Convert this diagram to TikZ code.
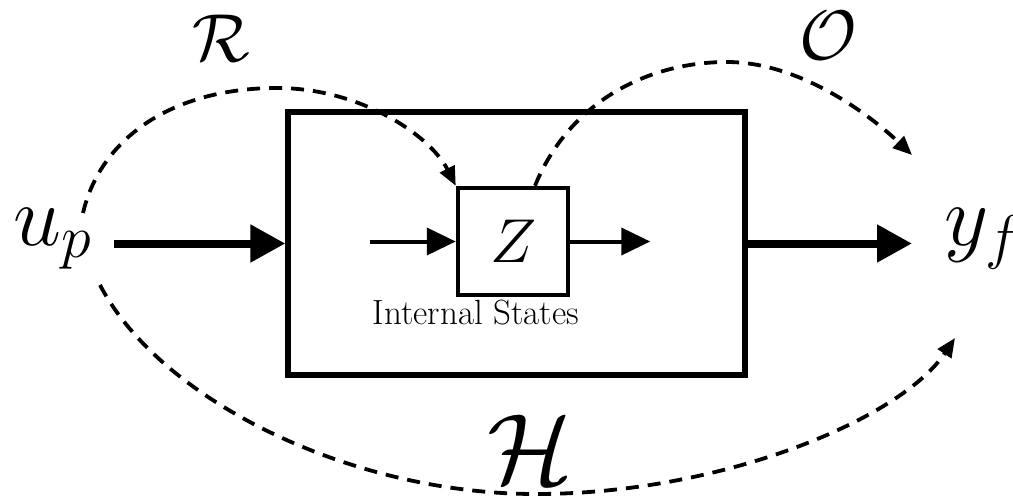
\documentclass[tikz,border=0pt]{standalone}
\usepackage{fix-cm}
\usepackage{amsmath,amssymb}
\usetikzlibrary{arrows.meta,positioning,calc}
\tikzset{
  blk/.style={draw, line width=2.6pt, minimum width=228.5pt, minimum height=131.5pt, inner sep=0pt},
  st/.style={draw, line width=2.25pt, minimum width=55pt, minimum height=53.5pt, inner sep=0pt,
    font=\fontsize{31}{36}\selectfont},
  sig/.style={inner sep=0pt, anchor=base west, font=\fontsize{43}{50}\selectfont},
  map/.style={inner sep=0pt, anchor=base},
  flow/.style={-{Triangle[length=17.5pt, width=18pt]}, line width=4pt},
  iflow/.style={-{Triangle[length=14.5pt, width=13.5pt]}, line width=2pt},
  rel/.style={-{Triangle[length=9.5pt, width=8pt]}, line width=1.9pt, dash pattern=on 6.5pt off 4.5pt},
}

\begin{document}
\begin{tikzpicture}[x=0.5pt, y=-0.5pt]
  \useasboundingbox (0,0) rectangle (1013,499);
  % system with its internal state
  \node[blk] (sys) at (516.5,243.5) {};
  \node[st] (z) at (513,241.5) {$Z$};
  \node[map, font=\fontsize{17.5}{20}\selectfont] (lbl) at (476,324) {Internal States};
  % past input, future output
  \node[sig] (up) at (13,245) {$u_p$};
  \node[sig] (yf) at (944,245) {$y_f$};
  \draw[flow] ($(sys.west -| up.east)+(22,0)$) -- (sys.west);
  \draw[flow] (sys.east) -- ($(yf.west |- sys.east)+(-32,0)$);
  \draw[iflow] ($(z.west)+(-86,0)$) -- (z.west);
  \draw[iflow] (z.east) -- ++(80,0);
  % maps
  \coordinate (rs) at (83,213);
  \coordinate (os) at ($(z.north)+(22,0)$);
  \coordinate (oe) at (912,155);
  \coordinate (hs) at (100,285);
  \coordinate (he) at (955,338);
  \draw[rel] (rs) .. controls (100,140) and (170,88) .. (277,88)
    .. controls (360,88) and (430,135) .. (z.north west);
  \draw[rel] (os) .. controls (570,100) and (650,62) .. (727,62)
    .. controls (800,62) and (870,115) .. (oe);
  \draw[rel] (hs) .. controls (160,400) and (350,494) .. (536,494)
    .. controls (720,494) and (900,420) .. (he);
  \node[map, font=\fontsize{34}{40}\selectfont] (r) at (221,61) {$\mathcal{R}$};
  \node[map, font=\fontsize{35}{40}\selectfont] (o) at (828,59) {$\mathcal{O}$};
  \node[map, font=\fontsize{50}{58}\selectfont] (h) at (530,483) {$\mathcal{H}$};
\end{tikzpicture}
\end{document}
